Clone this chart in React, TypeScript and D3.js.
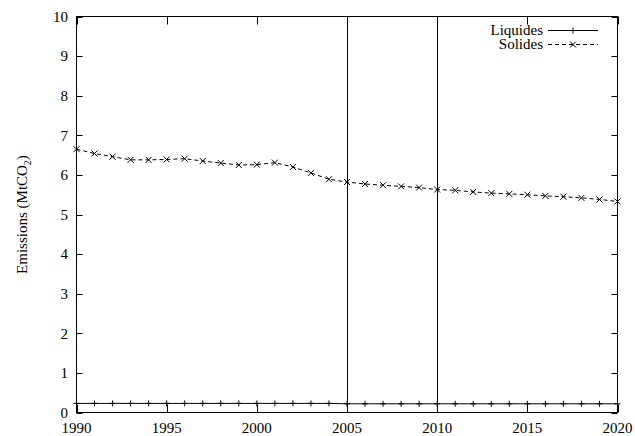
import React, { useEffect, useRef } from "react";
import * as d3 from "d3";

const years: number[] = d3.range(1990, 2021);
const liquides: number[] = [
  0.23, 0.23, 0.23, 0.23, 0.23, 0.23, 0.23, 0.23, 0.23, 0.23, 0.23,
  0.23, 0.23, 0.23, 0.23, 0.22, 0.22, 0.22, 0.22, 0.22, 0.22,
  0.22, 0.22, 0.22, 0.22, 0.22, 0.22, 0.22, 0.22, 0.22, 0.22,
];
const solides: number[] = [
  6.65, 6.54, 6.46, 6.38, 6.38, 6.39, 6.41, 6.35, 6.30, 6.25, 6.26,
  6.31, 6.20, 6.05, 5.89, 5.82, 5.77, 5.74, 5.71, 5.68, 5.63,
  5.61, 5.57, 5.54, 5.52, 5.50, 5.47, 5.45, 5.42, 5.38, 5.33,
];
const xTicks: number[] = [1990, 1995, 2000, 2005, 2010, 2015, 2020];
const yTicks: number[] = [0, 1, 2, 3, 4, 5, 6, 7, 8, 9, 10];
const vLines: number[] = [2005, 2010];
const seriesNames: string[] = ["Liquides", "Solides"];

const W = 635;
const H = 436;
const M = { left: 76.5, right: 617.5, top: 16.5, bottom: 412.5 };
const FONT = "'Liberation Serif', 'Times New Roman', serif";

export default function App() {
  const ref = useRef<SVGSVGElement>(null);

  useEffect(() => {
    const svg = d3.select(ref.current);
    svg.selectAll("*").remove();

    const x = d3.scaleLinear().domain([1990, 2020]).range([M.left, M.right]);
    const y = d3.scaleLinear().domain([0, 10]).range([M.bottom, M.top]);

    const g = svg.append("g");

    // vertical reference lines
    vLines.forEach((v) => {
      g.append("line")
        .attr("x1", Math.round(x(v)) + 0.5)
        .attr("x2", Math.round(x(v)) + 0.5)
        .attr("y1", M.top)
        .attr("y2", M.bottom)
        .attr("stroke", "#000")
        .attr("stroke-width", 1);
    });

    // ticks (mirrored)
    const tlx = 8;
    const tly = 6;
    xTicks.forEach((t) => {
      const px = Math.round(x(t)) + 0.5;
      g.append("line").attr("x1", px).attr("x2", px).attr("y1", M.bottom).attr("y2", M.bottom - tlx).attr("stroke", "#000");
      g.append("line").attr("x1", px).attr("x2", px).attr("y1", M.top).attr("y2", M.top + tlx).attr("stroke", "#000");
      g.append("text")
        .attr("x", x(t))
        .attr("y", 433)
        .attr("text-anchor", "middle")
        .attr("font-family", FONT)
        .attr("font-size", 15)
        .text(String(t));
    });
    yTicks.forEach((t) => {
      const py = Math.round(y(t)) + 0.5;
      g.append("line").attr("x1", M.left).attr("x2", M.left + tly).attr("y1", py).attr("y2", py).attr("stroke", "#000");
      g.append("line").attr("x1", M.right).attr("x2", M.right - tly).attr("y1", py).attr("y2", py).attr("stroke", "#000");
      g.append("text")
        .attr("x", 68)
        .attr("y", y(t))
        .attr("dy", "0.35em")
        .attr("text-anchor", "end")
        .attr("font-family", FONT)
        .attr("font-size", 15)
        .text(String(t));
    });

    // frame
    g.append("rect")
      .attr("x", M.left)
      .attr("y", M.top)
      .attr("width", M.right - M.left)
      .attr("height", M.bottom - M.top)
      .attr("fill", "none")
      .attr("stroke", "#000")
      .attr("stroke-width", 1);

    // y label
    const yl = g.append("text")
      .attr("transform", `translate(27,${(M.top + M.bottom) / 2}) rotate(-90)`)
      .attr("text-anchor", "middle")
      .attr("font-family", FONT)
      .attr("font-size", 15);
    yl.append("tspan").text("Emissions (MtCO");
    yl.append("tspan").attr("font-size", 10).attr("dy", 4).text("2");
    yl.append("tspan").attr("dy", -4).text(")");

    const line = d3.line<number>().x((_, i) => x(years[i])).y((d) => y(d));

    // Liquides
    g.append("path")
      .datum(liquides)
      .attr("d", line)
      .attr("fill", "none")
      .attr("stroke", "#000")
      .attr("stroke-width", 1);
    const plus = (cx: number, cy: number, s: number) =>
      `M${cx - s},${cy}H${cx + s}M${cx},${cy - s}V${cy + s}`;
    const cross = (cx: number, cy: number, s: number) =>
      `M${cx - s},${cy - s}L${cx + s},${cy + s}M${cx - s},${cy + s}L${cx + s},${cy - s}`;
    g.append("path")
      .attr("d", liquides.map((v, i) => plus(x(years[i]), y(v), 3)).join(""))
      .attr("stroke", "#000")
      .attr("fill", "none");

    // Solides
    g.append("path")
      .datum(solides)
      .attr("d", line)
      .attr("fill", "none")
      .attr("stroke", "#000")
      .attr("stroke-width", 1)
      .attr("stroke-dasharray", "4,3");
    g.append("path")
      .attr("d", solides.map((v, i) => cross(x(years[i]), y(v), 3)).join(""))
      .attr("stroke", "#000")
      .attr("fill", "none");

    // legend
    const legY = [30, 44];
    seriesNames.forEach((name, i) => {
      g.append("text")
        .attr("x", 543)
        .attr("y", legY[i])
        .attr("dy", "0.35em")
        .attr("text-anchor", "end")
        .attr("font-family", FONT)
        .attr("font-size", 15)
        .text(name);
      g.append("line")
        .attr("x1", 548)
        .attr("x2", 598)
        .attr("y1", legY[i] + 0.5)
        .attr("y2", legY[i] + 0.5)
        .attr("stroke", "#000")
        .attr("stroke-dasharray", i === 1 ? "4,3" : null);
      g.append("path")
        .attr("d", i === 0 ? plus(573, legY[i] + 0.5, 3) : cross(573, legY[i] + 0.5, 3))
        .attr("stroke", "#000")
        .attr("fill", "none");
    });
  }, []);

  return (
    <svg
      ref={ref}
      width={W}
      height={H}
      style={{ position: "absolute", left: 0, top: 0, background: "#fff" }}
    />
  );
}
